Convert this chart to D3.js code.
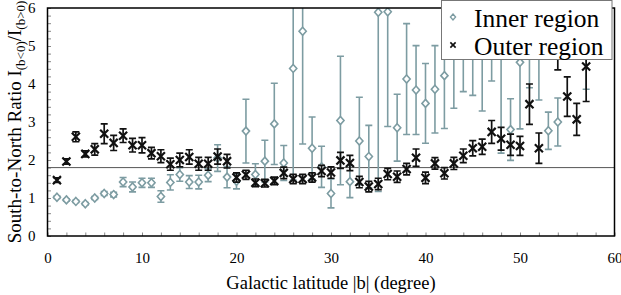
<!DOCTYPE html>
<html>
<head>
<meta charset="utf-8">
<script src="https://cdn.jsdelivr.net/npm/d3@7"></script>
<style>
  body { margin: 0; background: #fff; }
</style>
</head>
<body>
<div id="chart"></div>
<script>
// galactic latitude |b| (degree) of each bin
const latitude = [1, 2, 3, 4, 5, 6, 7, 8, 9, 10, 11, 12, 13, 14, 15, 16, 17, 18, 19, 20,
  21, 22, 23, 24, 25, 26, 27, 28, 29, 30, 31, 32, 33, 34, 35, 36, 37, 38, 39, 40,
  41, 42, 43, 44, 45, 46, 47, 48, 49, 50, 51, 52, 53, 54, 55, 56, 57];

// inner region ratio and its error (null = no point)
const innerRatio = [1.02, 0.95, 0.91, 0.85, 1.00, 1.12, 1.09, 1.42, 1.29, 1.40,
  1.40, 1.04, 1.41, 1.62, 1.42, 1.42, 1.60, 2.05, 1.55, 1.44,
  2.76, 1.62, 1.97, 2.95, 1.92, 4.41, 5.39, 2.31, 1.82, 1.12,
  3.04, 1.43, 2.50, 2.09, 5.89, 5.90, 2.85, 4.13, 3.84, 3.49,
  3.86, 4.22, 5.00, 5.10, 5.00, 5.00, 5.30, 4.90, 2.80, 4.57,
  5.30, 5.00, 2.77, 3.00, null, null, 5.00];
const innerError = [0.03, 0.03, 0.03, 0.03, 0.04, 0.05, 0.06, 0.12, 0.13, 0.12,
  0.12, 0.15, 0.20, 0.18, 0.17, 0.18, 0.17, 0.35, 0.28, 0.20,
  0.84, 0.28, 0.55, 1.07, 0.46, 2.94, 2.97, 0.82, 0.54, 0.38,
  1.69, 0.42, 1.15, 0.82, 4.72, 3.02, 0.88, 1.46, 1.17, 1.05,
  1.15, 1.39, 1.64, 1.30, 1.30, 1.71, 1.22, 2.72, 0.81, 1.75,
  1.40, 1.42, 0.49, 0.63, null, null, 1.14];

// outer region ratio and its error
const outerRatio = [1.47, 1.96, 2.61, 2.16, 2.28, 2.69, 2.45, 2.64, 2.39, 2.39,
  2.18, 2.10, 1.89, 2.00, 2.08, 1.90, 1.90, 2.09, 1.97, 1.54,
  1.61, 1.40, 1.39, 1.45, 1.66, 1.50, 1.50, 1.54, 1.71, 1.67,
  1.99, 1.92, 1.42, 1.30, 1.37, 1.63, 1.56, 1.76, 2.06, 1.53,
  1.91, 1.65, 1.91, 2.11, 2.31, 2.35, 2.74, 2.56, 2.40, 2.37,
  3.47, 2.31, null, 4.80, 3.67, 3.07, 4.46];
const outerError = [0.06, 0.07, 0.13, 0.08, 0.15, 0.26, 0.20, 0.18, 0.18, 0.20,
  0.15, 0.17, 0.16, 0.18, 0.19, 0.17, 0.17, 0.20, 0.18, 0.12,
  0.12, 0.10, 0.10, 0.10, 0.15, 0.12, 0.12, 0.12, 0.15, 0.15,
  0.21, 0.20, 0.15, 0.14, 0.15, 0.15, 0.15, 0.15, 0.23, 0.15,
  0.15, 0.15, 0.16, 0.18, 0.20, 0.20, 0.30, 0.30, 0.28, 0.25,
  0.53, 0.40, null, 0.43, 0.52, 0.42, 0.92];

const xTicks = [0, 2, 4, 6, 8, 10, 12, 14, 16, 18, 20, 22, 24, 26, 28, 30,
  32, 34, 36, 38, 40, 42, 44, 46, 48, 50, 52, 54, 56, 58, 60];
const xLabels = [0, 10, 20, 30, 40, 50, 60];
const yTicks = [0, 0.2, 0.4, 0.6, 0.8, 1, 1.2, 1.4, 1.6, 1.8, 2, 2.2, 2.4, 2.6, 2.8, 3,
  3.2, 3.4, 3.6, 3.8, 4, 4.2, 4.4, 4.6, 4.8, 5, 5.2, 5.4, 5.6, 5.8, 6];
const yLabels = [0, 1, 2, 3, 4, 5, 6];
const referenceRatio = 1.8;

const chartWidth = 621;
const chartHeight = 295;
const margin = {top: 8, right: 6.5, bottom: 59, left: 47.5};
const innerColor = "#7d9ca2";
const outerColor = "#111111";
const serif = 'Liberation Serif';

const x = d3.scaleLinear().domain([0, 60]).range([margin.left, chartWidth - margin.right]);
const y = d3.scaleLinear().domain([0, 6]).range([chartHeight - margin.bottom, margin.top]);

const svg = d3.select('#chart').append('svg')
  .attr('width', chartWidth)
  .attr('height', chartHeight)
  .attr('font-family', serif);

svg.append('defs').append('clipPath').attr('id', 'plot-clip')
  .append('rect')
  .attr('x', x(0)).attr('y', y(6))
  .attr('width', x(60) - x(0)).attr('height', y(0) - y(6));

// axes with inward ticks
const xAxis = svg.append('g')
  .attr('transform', `translate(0,${y(0)})`)
  .call(d3.axisBottom(x).tickValues(xTicks).tickSizeInner(-3.5).tickSizeOuter(0)
    .tickPadding(16)
    .tickFormat(d => xLabels.includes(d) ? d : ''));
xAxis.attr('font-family', serif).attr('font-size', 15);
xAxis.select('.domain').remove();
xAxis.selectAll('.tick line').attr('stroke', '#888');

const yAxis = svg.append('g')
  .attr('transform', `translate(${x(0)},0)`)
  .call(d3.axisLeft(y).tickValues(yTicks).tickSizeInner(-3.5).tickSizeOuter(0)
    .tickPadding(12)
    .tickFormat(d => yLabels.includes(d) ? d : ''));
yAxis.attr('font-family', serif).attr('font-size', 15);
yAxis.select('.domain').remove();
yAxis.selectAll('.tick line').attr('stroke', '#888');

// reference line
svg.append('line')
  .attr('x1', x(0)).attr('x2', x(60))
  .attr('y1', y(referenceRatio)).attr('y2', y(referenceRatio))
  .attr('stroke', '#555').attr('stroke-width', 1);

const plot = svg.append('g').attr('clip-path', 'url(#plot-clip)');

function buildPoints(ratio, err) {
  return latitude.map((b, i) => ({b: b, v: ratio[i], e: err[i]}))
    .filter(d => d.v !== null);
}
const innerPoints = buildPoints(innerRatio, innerError);
const outerPoints = buildPoints(outerRatio, outerError);

function drawErrorBars(g, points, color, width) {
  const cap = 3.5;
  const bars = g.append('g').attr('stroke', color).attr('stroke-width', width).attr('fill', 'none');
  bars.selectAll('path')
    .data(points)
    .join('path')
    .attr('d', d => {
      const cx = x(d.b), y1 = y(d.v + d.e), y2 = y(d.v - d.e);
      return `M${cx - cap},${y1}H${cx + cap}M${cx},${y1}V${y2}M${cx - cap},${y2}H${cx + cap}`;
    });
}

const diamondPath = 'M0,-4L3.6,0L0,4L-3.6,0Z';

drawErrorBars(plot, innerPoints, innerColor, 1.6);
plot.append('g').selectAll('path')
  .data(innerPoints)
  .join('path')
  .attr('transform', d => `translate(${x(d.b)},${y(d.v)})`)
  .attr('d', diamondPath)
  .attr('fill', '#fff')
  .attr('stroke', innerColor)
  .attr('stroke-width', 1.6);

drawErrorBars(plot, outerPoints, outerColor, 1.7);
const timesSymbol = d3.symbol(d3.symbolTimes, 44);
plot.append('g').selectAll('path')
  .data(outerPoints)
  .join('path')
  .attr('transform', d => `translate(${x(d.b)},${y(d.v)})`)
  .attr('d', timesSymbol)
  .attr('fill', 'none')
  .attr('stroke', outerColor)
  .attr('stroke-width', 2.2);

// frame
svg.append('rect')
  .attr('x', x(0)).attr('y', y(6))
  .attr('width', x(60) - x(0)).attr('height', y(0) - y(6))
  .attr('fill', 'none').attr('stroke', '#000').attr('stroke-width', 1.5);

// axis titles
svg.append('text')
  .attr('x', (x(0) + x(60)) / 2)
  .attr('y', 289)
  .attr('text-anchor', 'middle')
  .attr('font-size', 18.5)
  .text('Galactic latitude |b| (degree)');

const yTitle = svg.append('text')
  .attr('transform', `translate(21,${(y(0) + y(6)) / 2}) rotate(-90)`)
  .attr('text-anchor', 'middle')
  .attr('font-size', 19);
yTitle.append('tspan').text('South-to-North Ratio I');
yTitle.append('tspan').attr('font-size', 13).attr('dy', 4).text('(b<0)');
yTitle.append('tspan').attr('dy', -4).text('/I');
yTitle.append('tspan').attr('font-size', 13).attr('dy', 4).text('(b>0)');

// legend
const legend = svg.append('g');
legend.append('rect')
  .attr('x', 441.5).attr('y', 0.5)
  .attr('width', 170.5).attr('height', 59)
  .attr('fill', '#fff').attr('stroke', '#777').attr('stroke-width', 1);
legend.append('path')
  .attr('transform', 'translate(453,17)')
  .attr('d', 'M0,-3L2.6,0L0,3L-2.6,0Z')
  .attr('fill', '#fff').attr('stroke', innerColor).attr('stroke-width', 1.3);
legend.append('path')
  .attr('transform', 'translate(453,45)')
  .attr('d', d3.symbol(d3.symbolTimes, 20))
  .attr('fill', 'none').attr('stroke', outerColor).attr('stroke-width', 1.6);
legend.append('text').attr('x', 474).attr('y', 27).attr('font-size', 25.5).text('Inner region');
legend.append('text').attr('x', 474).attr('y', 55).attr('font-size', 25.5).text('Outer region');
</script>
</body>
</html>
